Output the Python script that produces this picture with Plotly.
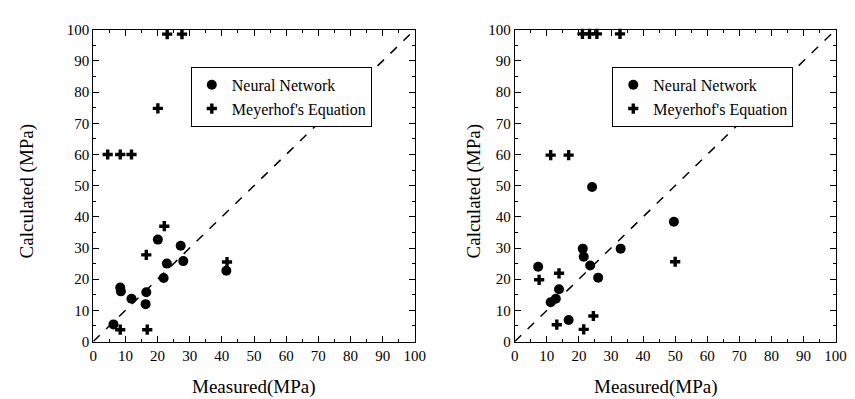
import plotly.graph_objects as go

# Left panel data
nn_left_x = [6.3, 8.4, 8.6, 11.9, 16.5, 16.3, 20.1, 21.9, 22.9, 27.2, 28.0, 41.4]
nn_left_y = [5.5, 17.3, 16.1, 13.7, 15.8, 12.0, 32.7, 20.4, 25.0, 30.7, 25.8, 22.7]
mey_left_x = [4.5, 8.4, 11.9, 23.0, 27.6, 20.1, 22.1, 16.5, 8.4, 16.8, 41.6]
mey_left_y = [60, 60, 60, 98.6, 98.6, 74.8, 37.0, 27.8, 3.8, 3.8, 25.5]

# Right panel data
nn_right_x = [7.3, 11.2, 12.8, 13.8, 16.8, 21.2, 21.5, 23.5, 24.1, 26.0, 33.0, 49.6]
nn_right_y = [24.0, 12.6, 13.7, 16.8, 6.9, 29.8, 27.2, 24.4, 49.6, 20.5, 29.8, 38.4]
mey_right_x = [7.6, 11.2, 16.8, 13.8, 13.1, 21.5, 24.5, 50.0, 21.1, 23.3, 25.6, 32.8]
mey_right_y = [19.8, 59.8, 59.8, 21.9, 5.4, 3.9, 8.2, 25.6, 98.7, 98.7, 98.7, 98.7]

diag = [0, 100]
tick_vals = list(range(0, 101, 10))

FONT = "Liberation Serif"

fig = go.Figure()

def add_panel(xa, ya, nnx, nny, mx, my, legend):
    fig.add_trace(go.Scatter(x=diag, y=diag, mode="lines", xaxis=xa, yaxis=ya,
                             line=dict(color="black", width=1.5, dash="dash"),
                             showlegend=False, hoverinfo="skip"))
    fig.add_trace(go.Scatter(x=nnx, y=nny, mode="markers", name="Neural Network",
                             xaxis=xa, yaxis=ya, legend=legend, cliponaxis=False,
                             marker=dict(symbol="circle", size=10, color="black")))
    fig.add_trace(go.Scatter(x=mx, y=my, mode="markers", name="Meyerhof's Equation",
                             xaxis=xa, yaxis=ya, legend=legend, cliponaxis=False,
                             marker=dict(symbol="cross", size=8.5, color="black")))

add_panel("x", "y", nn_left_x, nn_left_y, mey_left_x, mey_left_y, "legend")
add_panel("x2", "y2", nn_right_x, nn_right_y, mey_right_x, mey_right_y, "legend2")

axis_common = dict(range=[0, 100], tickvals=tick_vals, ticks="inside", ticklen=6,
                   tickwidth=1, tickcolor="black", showline=True, linecolor="black",
                   linewidth=1, mirror="allticks", showgrid=False, zeroline=False,
                   tickfont=dict(family=FONT, size=15, color="black"),
                   minor=dict(dtick=5, ticks="inside", ticklen=3, tickcolor="black"))

ydom = [0.150, 0.964]
leg_common = dict(xanchor="left", yanchor="top",
                  bordercolor="black", borderwidth=1, bgcolor="white",
                  font=dict(family=FONT, size=16, color="black"),
                  tracegroupgap=0, itemwidth=30)
fig.update_layout(
    width=855, height=399,
    margin=dict(l=0, r=0, t=0, b=0),
    paper_bgcolor="white", plot_bgcolor="white",
    font=dict(family=FONT, color="black"),
    xaxis=dict(domain=[0.0967, 0.4795], anchor="y", **axis_common),
    yaxis=dict(domain=ydom, anchor="x", **axis_common),
    xaxis2=dict(domain=[0.5985, 0.9805], anchor="y2", **axis_common),
    yaxis2=dict(domain=ydom, anchor="x2", **axis_common),
    legend=dict(x=182/855, y=1 - 53/399, **leg_common),
    legend2=dict(x=611/855, y=1 - 53/399, **leg_common),
    showlegend=True,
)

annots = [
    dict(text="Calculated (MPa)", x=15, y=182, textangle=-90),
    dict(text="Calculated (MPa)", x=470, y=182, textangle=-90),
    dict(text="Measured(MPa)", x=246, y=386, textangle=0),
    dict(text="Measured(MPa)", x=655, y=386, textangle=0),
]
for a in annots:
    fig.add_annotation(text=a["text"], x=a["x"] / 855, y=1 - a["y"] / 399,
                       xref="paper", yref="paper", showarrow=False,
                       textangle=a["textangle"], xanchor="center", yanchor="middle",
                       font=dict(family=FONT, size=19, color="black"))

fig.write_html("out.html")
